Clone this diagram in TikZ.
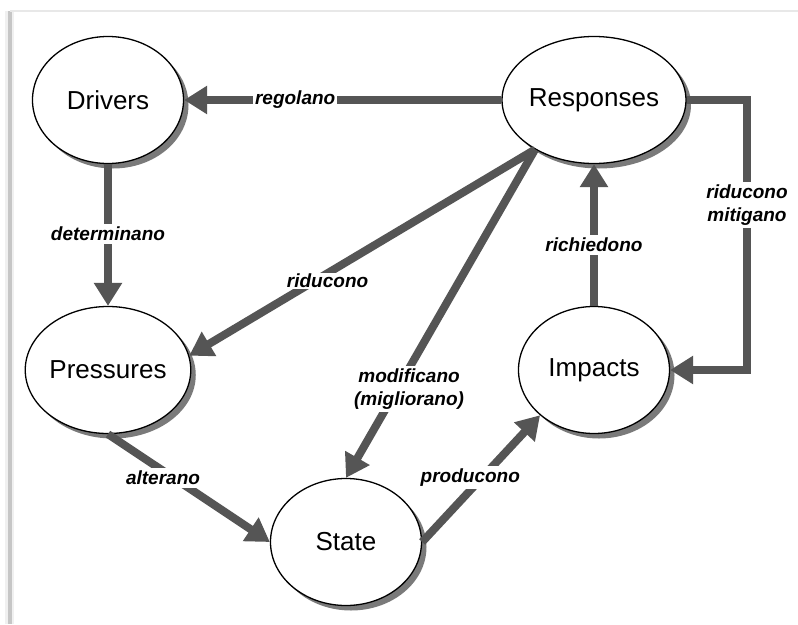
\documentclass[tikz,border=0pt]{standalone}
\usepackage{fontspec}
\setmainfont{Liberation Sans}
\usetikzlibrary{arrows.meta,shapes.geometric,shadows}
\definecolor{arrgray}{HTML}{555555}
\definecolor{shadgray}{HTML}{7A7A7A}
\begin{document}
\begin{tikzpicture}[x=1pt,y=-1pt,
  bubble/.style={ellipse, draw=black, line width=1.3pt, fill=white,
    minimum width=151pt, minimum height=127pt, inner sep=0pt,
    font=\fontsize{26}{30}\selectfont,
    drop shadow={shadow xshift=5pt, shadow yshift=-5pt, fill=shadgray, opacity=1}},
  arr/.style={draw=arrgray, line width=8pt, -{Triangle[length=23pt,width=27pt]}},
  lbl/.style={fill=white, inner sep=3pt, text=black, align=center,
    font=\fontsize{19}{22.5}\selectfont\bfseries\itshape}]
\fill[white] (0,0) rectangle (798,624);
\useasboundingbox (0,0) rectangle (798,624);
% page frame
\fill[gray!12] (5,11) rectangle (14,624);
\fill[gray!45] (8,11) rectangle (12,624);
\draw[gray!18, line width=1.5pt] (10,11) -- (798,11);
% nodes
\node[bubble] (drv) at (108,100) {Drivers};
\node[bubble] (rsp) at (594,100) {Responses};
\node[bubble] (prs) at (108,370) {Pressures};
\node[bubble] (imp) at (594,370) {Impacts};
\node[bubble] (sta) at (346,542) {State};
\coordinate (rc) at (747,100);
% connectors
\draw[arr] (rsp) -- node[lbl, pos=0.65, inner sep=2pt]{regolano} (drv);
\draw[arr] (drv) -- node[lbl, pos=0.49]{determinano} (prs);
\draw[arr] (rsp.220) -- node[lbl, pos=0.60, yshift=-8pt, inner sep=1pt]{riducono} (prs.10);
\draw[arr] (rsp.220) -- node[lbl, pos=0.73, xshift=12pt]{modificano\\(migliorano)} (sta.north);
\draw[arr] (prs.south) -- node[lbl, pos=0.34, yshift=-7pt]{alterano} (sta.west);
\draw[arr] (sta.east) -- node[lbl, pos=0.51, xshift=-12pt]{producono} (imp.220);
\draw[arr] (imp) -- node[lbl, pos=0.43]{richiedono} (rsp);
\draw[arr] (rsp.east) -- (rsp.east -| rc) -- node[lbl, pos=0.39]{riducono\\mitigano} (imp.east -| rc) -- (imp.east);
\end{tikzpicture}
\end{document}
